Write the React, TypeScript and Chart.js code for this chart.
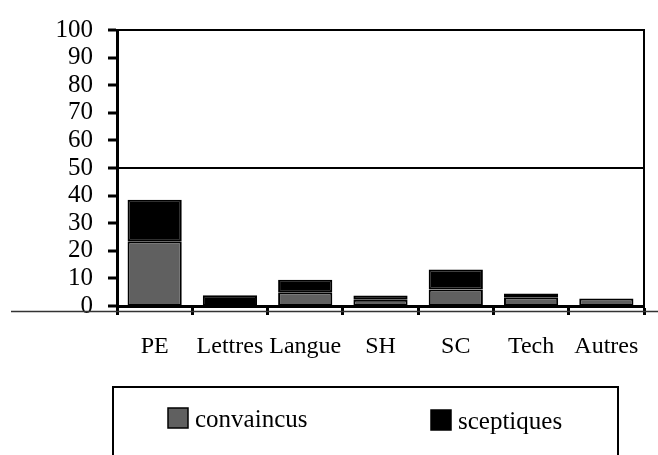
import React, { useEffect, useRef } from "react";
import { Chart, registerables } from "chart.js";

Chart.register(...registerables);

const categories = ["PE", "Lettres", "Langue", "SH", "SC", "Tech", "Autres"];
const convaincus = [23.5, 0, 5, 2.3, 6, 3.2, 2.7];
const sceptiques = [15, 3.9, 4.5, 1.5, 7.2, 1.3, 0];
const seriesLabels = ["convaincus", "sceptiques"];
const seriesColors = ["#606060", "#000000"];

const FONT = "'Liberation Serif', 'Times New Roman', serif";

const decorPlugin = {
  id: "decor",
  afterDraw(chart: any) {
    const { ctx, chartArea, width } = chart;
    ctx.save();
    // right border of plot area
    ctx.strokeStyle = "#000";
    ctx.lineWidth = 2;
    ctx.beginPath();
    ctx.moveTo(chartArea.right, chartArea.top - 1);
    ctx.lineTo(chartArea.right, chartArea.bottom + 9);
    ctx.stroke();
    // thin long baseline below axis
    ctx.strokeStyle = "#333";
    ctx.lineWidth = 1.6;
    ctx.beginPath();
    ctx.moveTo(11, chartArea.bottom + 5.5);
    ctx.lineTo(width, chartArea.bottom + 5.5);
    ctx.stroke();
    // legend box
    ctx.strokeStyle = "#000";
    ctx.lineWidth = 2;
    ctx.strokeRect(113, 387, 505, 100);
    const items = chart.data.datasets.map((d: any) => ({ label: d.label, color: d.backgroundColor }));
    const xs = [168, 431];
    const ys = [408, 410];
    items.forEach((it: any, i: number) => {
      ctx.fillStyle = it.color;
      ctx.fillRect(xs[i], ys[i], 20, 20);
      ctx.strokeStyle = "#000";
      ctx.lineWidth = 1.5;
      ctx.strokeRect(xs[i], ys[i], 20, 20);
      ctx.fillStyle = "#000";
      ctx.font = "25px " + FONT;
      ctx.textBaseline = "alphabetic";
      ctx.textAlign = "left";
      ctx.fillText(it.label, xs[i] + 27, ys[i] + 19);
    });
    ctx.restore();
  },
};

export default function App() {
  const ref = useRef<HTMLCanvasElement>(null);
  useEffect(() => {
    if (!ref.current) return;
    const chart = new Chart(ref.current, {
      type: "bar",
      data: {
        labels: categories,
        datasets: [
          {
            label: seriesLabels[0],
            data: convaincus,
            backgroundColor: seriesColors[0],
            borderColor: "#000",
            borderWidth: 2,
            borderSkipped: false,
            barPercentage: 0.72,
            categoryPercentage: 1,
          },
          {
            label: seriesLabels[1],
            data: sceptiques,
            backgroundColor: seriesColors[1],
            borderColor: "#000",
            borderWidth: 2,
            borderSkipped: false,
            barPercentage: 0.72,
            categoryPercentage: 1,
          },
        ],
      },
      options: {
        animation: false,
        responsive: false,
        devicePixelRatio: 1,
        layout: { padding: { top: 26, right: 14, left: 0, bottom: 0 } },
        plugins: { legend: { display: false }, tooltip: { enabled: false } },
        scales: {
          x: {
            stacked: true,
            offset: true,
            border: { display: true, width: 3, color: "#000" },
            grid: {
              offset: true,
              drawOnChartArea: false,
              drawTicks: true,
              tickLength: 9,
              tickWidth: 3,
              tickColor: "#000",
            },
            ticks: {
              color: "#000",
              font: { family: FONT, size: 24 },
              padding: 17,
              maxRotation: 0,
              autoSkip: false,
            },
            afterFit(scale: any) {
              scale.height = 149;
            },
          },
          y: {
            stacked: true,
            min: 0,
            max: 100,
            border: { display: true, width: 3, color: "#000" },
            grid: {
              drawTicks: true,
              tickLength: 9,
              tickWidth: 3,
              tickColor: "#000",
              lineWidth: (c: any) => (c.tick && c.tick.value > 0 && c.tick.value % 50 === 0 ? 2 : 0),
              color: (c: any) => (c.tick && c.tick.value > 0 && c.tick.value % 50 === 0 ? "#000" : "rgba(0,0,0,0)"),
            },
            ticks: {
              stepSize: 10,
              autoSkip: false,
              color: "#000",
              font: { family: FONT, size: 25 },
              padding: 15,
            },
            afterFit(scale: any) {
              scale.width = 117;
            },
          },
        },
      },
      plugins: [decorPlugin],
    } as any);
    return () => chart.destroy();
  }, []);
  return (
    <div style={{ position: "fixed", left: 0, top: 0, width: 658, height: 455, background: "#fff" }}>
      <canvas ref={ref} width={658} height={455} style={{ display: "block" }} />
    </div>
  );
}
